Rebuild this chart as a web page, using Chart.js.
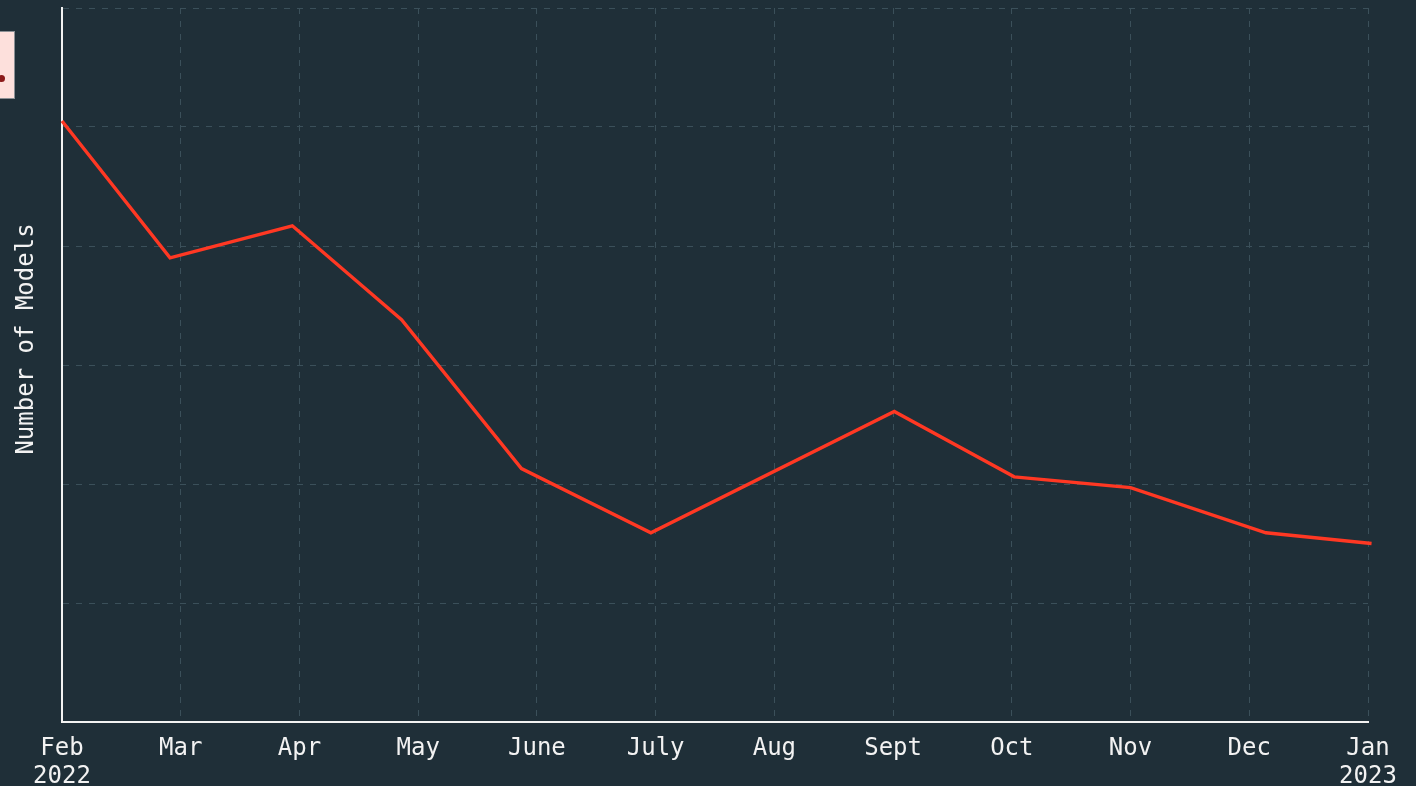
<!DOCTYPE html>
<html>
<head>
<meta charset="utf-8">
<script src="https://cdn.jsdelivr.net/npm/chart.js@4"></script>
<style>
  html, body { margin: 0; padding: 0; background: #1f2f38; overflow: hidden; }
  #wrap { position: relative; width: 1416px; height: 786px; }
  #legendStub {
    position: absolute; left: 0; top: 31px; width: 14px; height: 66px;
    background: #fde0dc; border: 1px solid #8a8f94; border-left: none;
  }
  #legendStub span {
    position: absolute; left: -2px; top: 43px; width: 7px; height: 7px;
    border-radius: 50%; background: #8b1a1a;
  }
</style>
</head>
<body>
<div id="wrap">
  <canvas id="chart" width="1416" height="786"></canvas>
  <div id="legendStub"><span></span></div>
</div>
<script>
// === DATOS ===
const monthLabels = [
  ["Feb", "2022"], "Mar", "Apr", "May", "June", "July",
  "Aug", "Sept", "Oct", "Nov", "Dec", ["Jan", "2023"]
];
// posición de cada punto en meses desde Feb 2022
const pointMonths = [0, 0.91, 1.94, 2.86, 3.87, 4.96, 7.01, 8.02, 9.0, 10.14, 11.03];
// número de modelos (escala sin etiquetas)
const modelCounts = [5.05, 3.90, 4.17, 3.38, 2.13, 1.59, 2.61, 2.06, 1.97, 1.59, 1.50];
const yTitle = "Number of Models";

const mono = "'DejaVu Sans Mono', 'Liberation Mono', monospace";
const gridColor = "#3b505a";
const textColor = "#f2f2f2";

// título del eje Y dibujado a mano (un poco por encima del centro)
const yTitlePlugin = {
  id: "yTitle",
  afterDraw(chart) {
    const c = chart.ctx;
    c.save();
    c.translate(27, 339);
    c.rotate(-Math.PI / 2);
    c.fillStyle = textColor;
    c.font = "24px " + mono;
    c.textAlign = "center";
    c.textBaseline = "middle";
    c.fillText(yTitle, 0, 0);
    c.restore();
  }
};

const ctx = document.getElementById("chart").getContext("2d");
new Chart(ctx, {
  type: "line",
  data: {
    datasets: [{
      label: "Models",
      data: pointMonths.map((m, i) => ({ x: m, y: modelCounts[i] })),
      borderColor: "#ff3823",
      borderWidth: 3.4,
      pointRadius: 0,
      tension: 0,
      clip: false
    }]
  },
  options: {
    responsive: false,
    animation: false,
    layout: { padding: { top: 8, right: 48, bottom: 0, left: 0 } },
    plugins: { legend: { display: false }, tooltip: { enabled: false } },
    scales: {
      x: {
        type: "linear",
        min: 0,
        max: 11,
        afterBuildTicks: (axis) => {
          axis.ticks = monthLabels.map((_, i) => ({ value: i }));
        },
        ticks: {
          color: textColor,
          font: { family: mono, size: 24 },
          padding: 12,
          maxRotation: 0,
          autoSkip: false,
          callback: (v) => monthLabels[v]
        },
        grid: { color: gridColor, lineWidth: 1, drawTicks: false },
        border: { color: textColor, width: 2, dash: [6, 7] },
        afterFit: (axis) => { axis.height = 64; }
      },
      y: {
        min: 0,
        max: 6,
        ticks: { display: false, stepSize: 1 },
        grid: { color: gridColor, lineWidth: 1, drawTicks: false },
        border: { color: textColor, width: 2, dash: [6, 7] },
        afterFit: (axis) => { axis.width = 62; }
      }
    }
  },
  plugins: [yTitlePlugin]
});
</script>
</body>
</html>
